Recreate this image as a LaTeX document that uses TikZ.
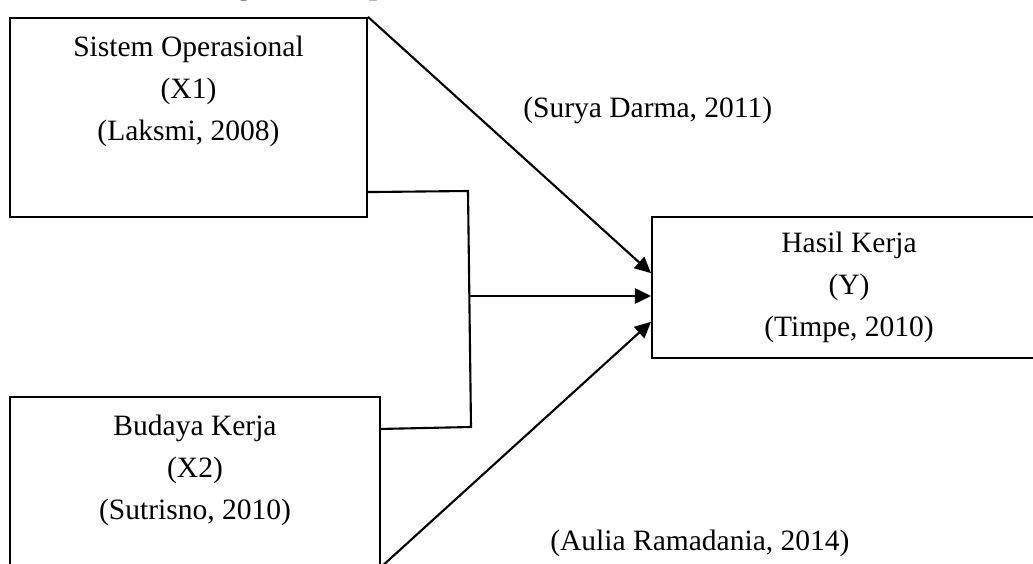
\documentclass[tikz,border=0pt]{standalone}
\usepackage{fontspec}
\setmainfont{Liberation Serif}
\usetikzlibrary{arrows.meta,positioning,calc}

\begin{document}
\begin{tikzpicture}[>={Triangle[length=.4cm,width=.38cm]},
 font=\fontsize{21pt}{29.9pt}\selectfont,
 box/.style={draw=black,line width=1.5pt,inner sep=0pt},
 lbl/.style={anchor=north,align=center,inner sep=0pt,yshift=-.47cm},
 cite/.style={anchor=base west,inner sep=0pt},
 arr/.style={->,draw=black,line width=1.5pt}]
\useasboundingbox (0,0) rectangle (25.825,14.075);
\clip (0,0) rectangle (25.825,14.075);
\node[anchor=base west,inner sep=0pt,font=\fontsize{21pt}{29.9pt}\selectfont\bfseries] (ttl) at (-0.05,14.2) {Gambar 2.1 Kerangka Konsep};
\node[box,minimum width=8.925cm,minimum height=4.975cm,
 label={[lbl]north:{Sistem Operasional\\(X1)\\(Laksmi, 2008)}}] (so) at (4.7125,11.1375) {};
\node[box,minimum width=9.25cm,minimum height=4.225cm,
 label={[lbl]north:{Budaya Kerja\\(X2)\\(Sutrisno, 2010)}}] (bk) at (4.875,2.0375) {};
\node[box,minimum width=9.85cm,minimum height=3.525cm,align=center] (hk) at (21.225,6.8875) {Hasil Kerja\\(Y)\\(Timpe, 2010)};
\node[cite] (c1) at (13.075,11.125) {(Surya Darma, 2011)};
\node[cite] (c2) at (13.75,0.325) {(Aulia Ramadania, 2014)};
\coordinate (j1) at (11.7,9.3);
\coordinate (j2) at (11.775,3.4);
\coordinate (jm) at (11.74,6.675);
\draw[arr] (so.north east) -- ([yshift=.36cm]hk.west);
\draw[line width=1.5pt] ([yshift=.65cm]so.south east) -- (j1) -- (j2) -- ([yshift=-.825cm]bk.north east);
\draw[arr] (jm) -- (jm -| hk.west);
\draw[arr] (bk.south east) -- ([yshift=-.86cm]hk.west);
\end{tikzpicture}
\end{document}
